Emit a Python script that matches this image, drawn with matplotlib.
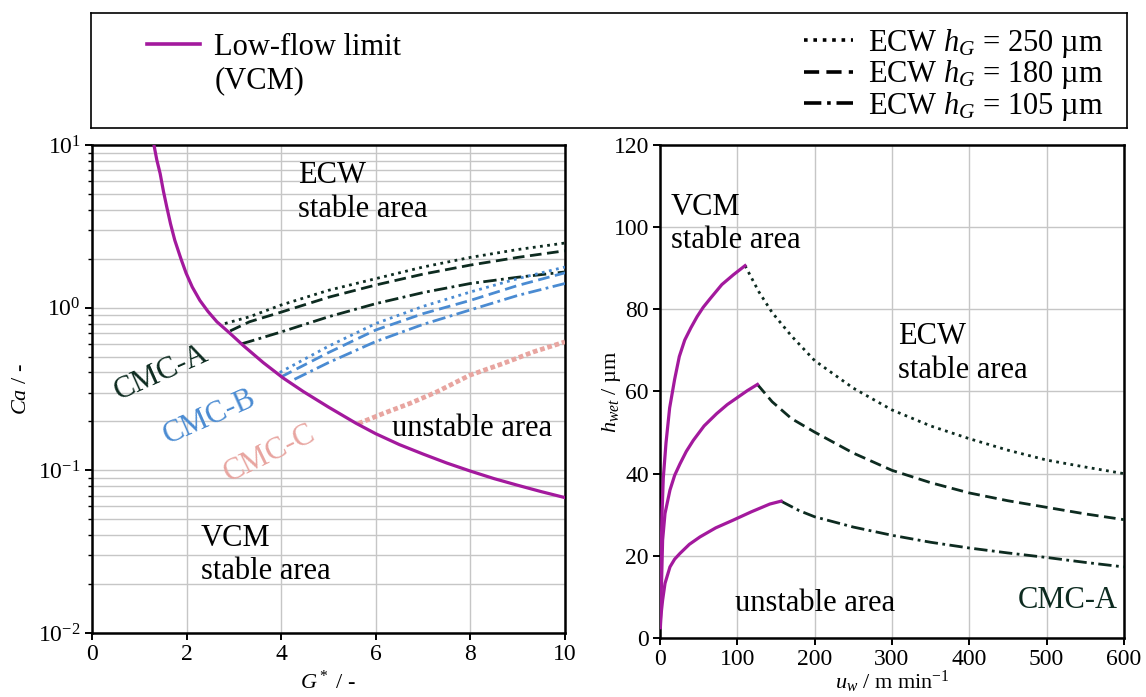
"""
plot.py
=======
Operating window of CMC coating fluids: Low-flow limit (VCM) versus the
ECW stability boundaries, drawn as Ca over G* (left) and as wet film
height over web speed (right).

Output:
  out.png
"""

import matplotlib.pyplot as plt
from matplotlib.lines import Line2D
from matplotlib.ticker import LogLocator, NullFormatter

# ──────────────────────────────────────────────
# Style
# ──────────────────────────────────────────────
plt.rcParams["font.family"] = ["Liberation Serif", "DejaVu Serif"]
plt.rcParams["mathtext.fontset"] = "custom"
plt.rcParams["mathtext.rm"] = "Liberation Serif"
plt.rcParams["mathtext.it"] = "Liberation Serif:italic"
plt.rcParams["mathtext.bf"] = "Liberation Serif:bold"

MAGENTA = "#a3199d"
DARK = "#0d2b20"
BLUE = "#4a8bd2"
PINK = "#e8a5a0"
GRID = "#c6c6c6"

DOT = (0, (1, 1.6))
DASH = (0, (4.2, 2.0))
DASHDOT = (0, (4.8, 1.6, 1, 1.6))

TICK_FS = 17
LABEL_FS = 16
TEXT_FS = 22
LEG_FS = 22

# ──────────────────────────────────────────────
# Data
# ──────────────────────────────────────────────
# Left panel: low-flow limit Ca(G*)
vcm_g = [1.31, 1.37, 1.44, 1.51, 1.58, 1.66, 1.75, 1.88, 1.99, 2.12, 2.28,
         2.45, 2.64, 2.92, 3.20, 3.62, 4.04, 4.47, 5.0, 5.58, 6.0, 6.5,
         7.0, 7.5, 8.0, 8.5, 9.0, 9.5, 10.0]
vcm_ca = [10.0, 8.1, 6.69, 5.2, 4.17, 3.28, 2.60, 2.0, 1.63, 1.34, 1.11,
          0.95, 0.82, 0.695, 0.585, 0.46, 0.37, 0.305, 0.245, 0.195, 0.168, 0.144,
          0.126, 0.111, 0.099, 0.089, 0.081, 0.074, 0.068]

# CMC-A ECW limits
a250_g = [2.81, 3.33, 4.0, 5.0, 6.0, 7.0, 8.0, 9.0, 10.0]
a250_ca = [0.80, 0.88, 1.04, 1.28, 1.51, 1.78, 2.04, 2.28, 2.5]
a180_g = [2.92, 3.33, 4.0, 5.0, 6.0, 7.0, 8.0, 9.0, 10.0]
a180_ca = [0.72, 0.82, 0.94, 1.16, 1.38, 1.61, 1.83, 2.04, 2.24]
a105_g = [3.16, 3.33, 4.0, 5.0, 6.0, 7.0, 8.0, 9.0, 10.0]
a105_ca = [0.60, 0.62, 0.71, 0.88, 1.06, 1.24, 1.41, 1.54, 1.66]

# CMC-B ECW limits
b250_g = [3.97, 5.0, 6.0, 7.0, 8.0, 9.0, 10.0]
b250_ca = [0.40, 0.58, 0.80, 1.02, 1.25, 1.51, 1.78]
b180_g = [4.0, 5.0, 6.0, 7.0, 8.0, 9.0, 10.0]
b180_ca = [0.376, 0.53, 0.73, 0.92, 1.11, 1.37, 1.64]
b105_g = [4.28, 5.0, 6.0, 7.0, 8.0, 9.0, 10.0]
b105_ca = [0.363, 0.46, 0.62, 0.79, 0.97, 1.19, 1.41]

# CMC-C ECW limit (measured)
c_g = [5.63, 6.16, 6.72, 7.29, 7.99, 8.70, 9.33, 10.0]
c_ca = [0.194, 0.224, 0.258, 0.304, 0.385, 0.455, 0.535, 0.617]

# Right panel: low-flow limit h_wet(u_w) for each gap
v250_u = [0.5, 1.2, 2.6, 4.3, 7.8, 12.5, 19, 25, 32, 40, 48, 56, 65, 80, 95, 110]
v250_h = [3, 18, 30, 39, 47.5, 56, 63, 68.5, 72.5, 75.5, 78.2, 80.5, 82.6, 86, 88.4, 90.6]
v180_u = [0.5, 1.0, 2.1, 3.4, 6.5, 12.9, 19, 25.9, 34, 43.1, 57, 73.3, 87, 100, 113, 126]
v180_h = [3, 8, 14, 23.8, 30.3, 36, 39.6, 42.4, 45.4, 48.1, 51.6, 54.6, 56.8, 58.5, 60.2, 61.7]
v105_u = [0.5, 1.0, 2.0, 3.4, 6.5, 12.9, 19, 25.9, 38, 51.7, 72, 94.8, 118, 142, 156.5]
v105_h = [2.5, 4.5, 6.8, 9.2, 13.3, 17.3, 19.2, 20.6, 22.8, 24.6, 26.8, 28.7, 30.7, 32.6, 33.3]

# Right panel: ECW limits h_wet(u_w), CMC-A
e250_u = [110, 128, 145, 170, 200, 250, 300, 350, 400, 450, 500, 550, 600]
e250_h = [90.6, 84.2, 79.2, 73.5, 67.5, 60.8, 55.5, 51.6, 48.5, 45.7, 43.3, 41.6, 40.0]
e180_u = [126, 145, 170, 200, 250, 300, 350, 400, 450, 500, 550, 600]
e180_h = [61.7, 57.5, 53.4, 50.1, 45.0, 40.8, 37.8, 35.3, 33.4, 31.8, 30.2, 28.8]
e105_u = [156.5, 180, 200, 250, 300, 350, 400, 450, 500, 550, 600]
e105_h = [33.3, 31.0, 29.5, 27.0, 25.0, 23.3, 21.9, 20.7, 19.6, 18.4, 17.3]

LEFT_XTICKS = [0, 2, 4, 6, 8, 10]
RIGHT_XTICKS = [0, 100, 200, 300, 400, 500, 600]
RIGHT_YTICKS = [0, 20, 40, 60, 80, 100, 120]


def style_axes(ax):
    for sp in ax.spines.values():
        sp.set_linewidth(1.8)
    ax.tick_params(which="major", direction="out", length=5, width=1.4,
                   labelsize=TICK_FS, pad=3)
    ax.tick_params(which="minor", direction="out", length=3, width=1.0)
    ax.set_axisbelow(True)


# ──────────────────────────────────────────────
# Figure
# ──────────────────────────────────────────────
fig = plt.figure(figsize=(11.46, 6.97), dpi=100)
ax1 = fig.add_axes([0.0803, 0.0918, 0.4127, 0.700])
ax2 = fig.add_axes([0.5759, 0.0846, 0.4049, 0.7076])
axl = fig.add_axes([0.0794, 0.8164, 0.904, 0.165])

# Left panel
ax1.set_yscale("log")
ax1.plot(vcm_g, vcm_ca, color=MAGENTA, lw=2.3, zorder=5)
for g, ca, ls in [(a250_g, a250_ca, DOT), (a180_g, a180_ca, DASH), (a105_g, a105_ca, DASHDOT)]:
    ax1.plot(g, ca, color=DARK, lw=2.0, linestyle=ls, zorder=4)
for g, ca, ls in [(b250_g, b250_ca, DOT), (b180_g, b180_ca, DASH), (b105_g, b105_ca, DASHDOT)]:
    ax1.plot(g, ca, color=BLUE, lw=2.0, linestyle=ls, zorder=4)
ax1.plot(c_g, c_ca, color=PINK, lw=3.4, linestyle=(0, (1, 0.6)), zorder=3)

ax1.set_xlim(0, 10)
ax1.set_ylim(1e-2, 1e1)
ax1.set_xticks(LEFT_XTICKS)
ax1.yaxis.set_minor_locator(LogLocator(base=10, subs=range(2, 10)))
ax1.yaxis.set_minor_formatter(NullFormatter())
ax1.grid(True, which="major", color=GRID, lw=1.0)
ax1.grid(True, which="minor", axis="y", color=GRID, lw=1.0)
style_axes(ax1)
ax1.set_xlabel(r"$G^*$ / -", fontsize=LABEL_FS)
ax1.set_ylabel(r"$Ca$ / -", fontsize=LABEL_FS)
ax1.xaxis.set_label_coords(0.5, -0.078)
ax1.yaxis.set_label_coords(-0.13, 0.5)

ax1.text(4.35, 5.1, "ECW\nstable area", fontsize=TEXT_FS, ha="left", va="center", linespacing=1.2)
ax1.text(6.34, 0.182, "unstable area", fontsize=TEXT_FS, ha="left", va="center")
ax1.text(2.3, 0.0303, "VCM\nstable area", fontsize=TEXT_FS, ha="left", va="center", linespacing=1.2)
ax1.text(1.47, 0.40, "CMC-A", fontsize=TEXT_FS, color=DARK, rotation=24, ha="center", va="center")
ax1.text(2.49, 0.214, "CMC-B", fontsize=TEXT_FS, color=BLUE, rotation=24, ha="center", va="center")
ax1.text(3.76, 0.127, "CMC-C", fontsize=TEXT_FS, color=PINK, rotation=26, ha="center", va="center")

# Right panel
for u, h in [(v250_u, v250_h), (v180_u, v180_h), (v105_u, v105_h)]:
    ax2.plot(u, h, color=MAGENTA, lw=2.3, zorder=5)
for u, h, ls in [(e250_u, e250_h, DOT), (e180_u, e180_h, DASH), (e105_u, e105_h, DASHDOT)]:
    ax2.plot(u, h, color=DARK, lw=2.0, linestyle=ls, zorder=4)

ax2.set_xlim(0, 600)
ax2.set_ylim(0, 120)
ax2.set_xticks(RIGHT_XTICKS)
ax2.set_yticks(RIGHT_YTICKS)
ax2.grid(True, color=GRID, lw=1.0)
style_axes(ax2)
ax2.set_xlabel(r"$u_w$ / m min$^{-1}$", fontsize=LABEL_FS)
ax2.set_ylabel(r"$h_{wet}$ / µm", fontsize=LABEL_FS)
ax2.xaxis.set_label_coords(0.5, -0.062)
ax2.yaxis.set_label_coords(-0.08, 0.5)

ax2.text(14, 100.8, "VCM\nstable area", fontsize=TEXT_FS, ha="left", va="center", linespacing=1.2)
ax2.text(308, 69.2, "ECW\nstable area", fontsize=TEXT_FS, ha="left", va="center", linespacing=1.2)
ax2.text(200, 8.3, "unstable area", fontsize=TEXT_FS, ha="center", va="center")
ax2.text(592, 9.2, "CMC-A", fontsize=TEXT_FS, color=DARK, ha="right", va="center")

# Legend box
axl.set_xticks([])
axl.set_yticks([])
for sp in axl.spines.values():
    sp.set_linewidth(1.2)

h_vcm = [Line2D([], [], color=MAGENTA, lw=2.6), Line2D([], [], lw=0)]
leg1 = axl.legend(h_vcm, ["Low-flow limit", "(VCM)"], loc="upper left",
                  bbox_to_anchor=(0.054, 0.83), frameon=False, fontsize=LEG_FS,
                  handlelength=1.75, handletextpad=0.45, borderpad=0,
                  borderaxespad=0, labelspacing=0.15)
axl.add_artist(leg1)

h_ecw = [Line2D([], [], color="black", lw=2.6, linestyle=ls) for ls in (DOT, DASH, DASHDOT)]
lab_ecw = [r"ECW $h_G$ = 250 µm", r"ECW $h_G$ = 180 µm", r"ECW $h_G$ = 105 µm"]
axl.legend(h_ecw, lab_ecw, loc="upper left", bbox_to_anchor=(0.688, 0.88),
           frameon=False, fontsize=LEG_FS, handlelength=1.6, handletextpad=0.5,
           borderpad=0, borderaxespad=0, labelspacing=-0.05)

fig.savefig("out.png", dpi=100)
